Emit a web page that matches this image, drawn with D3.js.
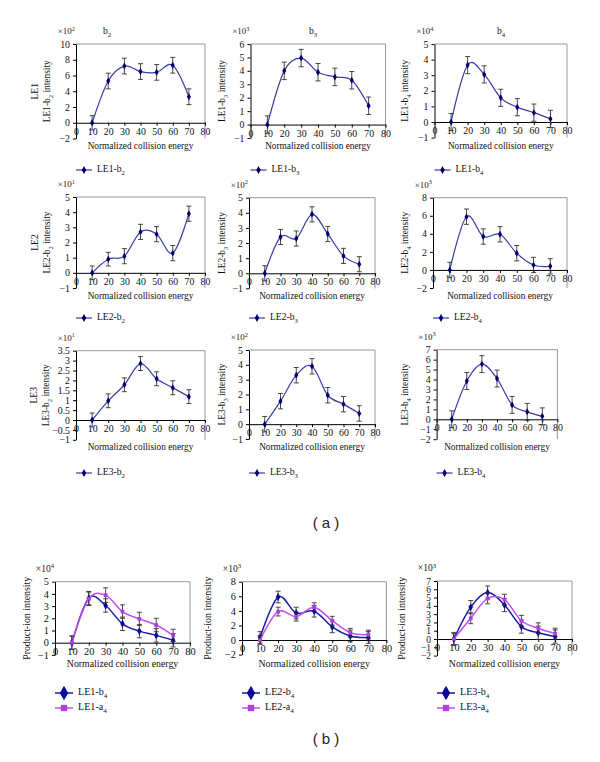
<!DOCTYPE html>
<html><head><meta charset="utf-8">
<script src="https://cdn.jsdelivr.net/npm/d3@7"></script>
<style>
body{margin:0;background:#fff} svg{display:block}
svg text{font-family:"Liberation Serif","Times New Roman",serif}
svg text.sans{font-family:"Liberation Sans",Arial,sans-serif}
</style>
</head><body>
<svg id="c" width="600" height="762"></svg>
<script>
// ---------- data ----------
const energy = [10, 20, 30, 40, 50, 60, 70];
const xTickValues = [0, 10, 20, 30, 40, 50, 60, 70, 80];

// panel (a): values in units of each axis multiplier
const le1b2 = [0, 5.3, 7.2, 6.5, 6.4, 7.3, 3.3];
const le1b2Err = [0.9, 1.0, 1.0, 1.0, 1.0, 1.0, 1.0];
const le1b3 = [0, 4.0, 4.95, 3.9, 3.55, 3.3, 1.4];
const le1b3Err = [0.65, 0.65, 0.65, 0.65, 0.65, 0.65, 0.65];
const le1b4 = [0, 3.65, 3.05, 1.55, 0.95, 0.6, 0.2];
const le1b4Err = [0.55, 0.55, 0.55, 0.55, 0.55, 0.55, 0.55];

const le2b2 = [0, 0.9, 1.1, 2.7, 2.55, 1.3, 3.9];
const le2b2Err = [0.45, 0.45, 0.5, 0.5, 0.5, 0.5, 0.5];
const le2b3 = [0, 2.4, 2.3, 3.9, 2.6, 1.15, 0.6];
const le2b3Err = [0.5, 0.5, 0.5, 0.5, 0.5, 0.5, 0.5];
const le2b4 = [0, 5.9, 3.7, 3.95, 1.85, 0.55, 0.4];
const le2b4Err = [0.85, 0.85, 0.85, 0.85, 0.85, 0.85, 0.85];

const le3b2 = [0, 0.97, 1.78, 2.85, 2.08, 1.63, 1.18];
const le3b2Err = [0.35, 0.35, 0.35, 0.35, 0.35, 0.35, 0.35];
const le3b3 = [0, 1.55, 3.3, 3.9, 1.95, 1.35, 0.72];
const le3b3Err = [0.52, 0.52, 0.52, 0.52, 0.52, 0.52, 0.52];
const le3b4 = [0, 3.85, 5.55, 4.1, 1.45, 0.75, 0.3];
const le3b4Err = [0.85, 0.85, 0.85, 0.85, 0.85, 0.85, 0.85];

// panel (b)
const b1b4 = [0, 3.65, 3.05, 1.55, 0.95, 0.6, 0.2];
const b1b4Err = [0.55, 0.55, 0.55, 0.55, 0.55, 0.55, 0.55];
const b1a4 = [0, 3.6, 3.9, 2.55, 1.95, 1.45, 0.6];
const b1a4Err = [0.55, 0.55, 0.6, 0.55, 0.55, 0.55, 0.5];
const b2b4 = [0.35, 5.9, 3.7, 3.95, 1.8, 0.55, 0.35];
const b2b4Err = [0.8, 0.8, 0.8, 0.8, 0.8, 0.8, 0.8];
const b2a4 = [0, 3.9, 3.2, 4.5, 2.65, 1.0, 0.75];
const b2a4Err = [0.6, 0.6, 0.6, 0.6, 0.6, 0.6, 0.6];
const b3b4 = [0, 3.85, 5.6, 4.1, 1.5, 0.75, 0.3];
const b3b4Err = [0.8, 0.8, 0.8, 0.8, 0.8, 0.8, 0.8];
const b3a4 = [0, 2.5, 4.9, 4.75, 2.2, 1.3, 0.65];
const b3a4Err = [0.65, 0.65, 0.65, 0.65, 0.65, 0.65, 0.65];

const rowNames = ["LE1", "LE2", "LE3"];
const ionNums = ["2", "3", "4"];

// ---------- drawing ----------
const svg = d3.select("#c");
const C = {
  aLine: "#3c3ca8", aMark: "#00006e", err: "#333333", border: "#8c8c8c",
  bBlue: "#1a1aa8", bBlueMark: "#08089a", bMag: "#c24ff2", bMagMark: "#b03ee2"
};

function rich(sel, segs) {
  let cur = 0;
  segs.forEach(s => {
    const shift = s.sub ? 2.5 : (s.sup ? -3.5 : 0);
    const t = sel.append("tspan").attr("dy", shift - cur).text(s.t);
    if (s.sub || s.sup) t.attr("font-size", "70%");
    cur = shift;
  });
  return sel;
}
const fmt = d => (d < 0 ? "\u2212" : "") + String(Math.round(Math.abs(d) * 10) / 10);

function drawPanel(p) {
  const g = svg.append("g");
  const x = d3.scaleLinear().domain([0, 80]).range([p.x0, p.x1]);
  const y = d3.scaleLinear().domain(p.yDomain).range([p.yBot, p.yTop]);
  const fs = p.fs || 9;

  g.append("path").attr("d", `M${p.x0},${p.yTop}H${p.x1}V${p.yBot}`)
    .attr("fill", "none").attr("stroke", C.border).attr("stroke-width", 0.9);

  const yTicks = d3.range(p.yDomain[0], p.yDomain[1] + p.yStep / 2, p.yStep);
  const ya = g.append("g").attr("transform", `translate(${p.x0},0)`)
    .call(d3.axisLeft(y).tickValues(yTicks).tickSize(3).tickSizeOuter(0).tickPadding(3).tickFormat(fmt));
  const xa = g.append("g").attr("transform", `translate(0,${y(0)})`)
    .call(d3.axisBottom(x).tickValues(xTickValues).tickSize(3).tickSizeOuter(0).tickPadding(2).tickFormat(d3.format("d")));
  [ya, xa].forEach(a => {
    a.selectAll("path.domain").attr("stroke", "#000").attr("stroke-width", 1);
    a.selectAll(".tick line").attr("stroke", "#000");
    a.selectAll("text").attr("font-size", fs + 0.8).attr("fill", "#111");
  });
  if (p.yTickFs) ya.selectAll("text").attr("font-size", p.yTickFs);

  rich(g.append("text").attr("x", p.x0 - 1).attr("y", p.yTop - 10).attr("text-anchor", "end")
    .attr("font-size", fs).attr("fill", "#222"),
    [{t: "\u00d710"}, {t: p.mult, sup: true}]);

  const ty = (p.yTop + p.yBot) / 2;
  rich(g.append("text").attr("transform", `translate(${p.yTitleX},${ty}) rotate(-90)`)
    .attr("text-anchor", "middle").attr("font-size", fs + 0.4).attr("fill", "#111"),
    p.yTitle);
  if (p.rowLabel) {
    g.append("text").attr("transform", `translate(${p.yTitleX - 12},${ty}) rotate(-90)`)
      .attr("text-anchor", "middle").attr("font-size", fs + 0.6).attr("fill", "#111")
      .text(p.rowLabel);
  }
  if (p.colTitle) {
    rich(g.append("text").attr("x", p.colTitleX).attr("y", p.yTop - 10).attr("text-anchor", "middle")
      .attr("font-size", fs + 0.6).attr("fill", "#111"),
      [{t: "b"}, {t: p.colTitle, sub: true}]);
  }
  g.append("text").attr("x", (p.x0 + p.x1) / 2).attr("y", p.xTitleY).attr("text-anchor", "middle")
    .attr("dominant-baseline", "middle").attr("font-size", fs + 0.3).attr("fill", "#111")
    .text("Normalized collision energy");

  const line = d3.line().x(d => x(d.x)).y(d => y(d.y)).curve(d3.curveCardinal.tension(0));
  p.series.forEach(s => {
    const pts = energy.map((e, i) => ({x: e, y: s.values[i], err: s.err[i]}));
    g.append("path").datum(pts).attr("d", line).attr("fill", "none")
      .attr("stroke", s.color).attr("stroke-width", s.lw || 1.2);
    const eb = g.append("g").attr("stroke", C.err).attr("stroke-width", 0.9);
    pts.forEach(d => {
      const cx = x(d.x), y1 = y(d.y + d.err), y2 = y(d.y - d.err);
      eb.append("line").attr("x1", cx).attr("x2", cx).attr("y1", y1).attr("y2", y2);
      eb.append("line").attr("x1", cx - 2.5).attr("x2", cx + 2.5).attr("y1", y1).attr("y2", y1);
      eb.append("line").attr("x1", cx - 2.5).attr("x2", cx + 2.5).attr("y1", y2).attr("y2", y2);
    });
    g.append("g").selectAll("path").data(pts).join("path")
      .attr("transform", d => `translate(${x(d.x)},${y(d.y)})`)
      .attr("d", d3.symbol(s.symbol, s.msize || 14)).attr("fill", s.mark);
  });

  p.series.forEach((s, i) => {
    const ly = p.legendY + i * (p.legendGap || 0);
    const lx = p.x0 + (p.legendDx || 0);
    const lw = p.legendW || 16;
    g.append("line").attr("x1", lx).attr("x2", lx + lw).attr("y1", ly).attr("y2", ly)
      .attr("stroke", s.color).attr("stroke-width", s.lw || 1.2);
    g.append("path").attr("transform", `translate(${lx + lw / 2},${ly})`)
      .attr("d", d3.symbol(s.symbol, s.lmsize || 16)).attr("fill", s.mark);
    rich(g.append("text").attr("x", lx + lw + 5).attr("y", ly).attr("dominant-baseline", "middle")
      .attr("font-size", fs + 0.6).attr("fill", "#111"), s.label);
  });
}

function aSeries(row, col, values, err) {
  return {values, err, color: C.aLine, mark: C.aMark, symbol: d3.symbolDiamond, msize: 14, lmsize: 18,
    label: [{t: rowNames[row] + "-b"}, {t: ionNums[col], sub: true}]};
}
function aTitle(row, col) {
  return [{t: rowNames[row] + "-b"}, {t: ionNums[col], sub: true}, {t: " intensity"}];
}

const panelsA = [
  {x0: 76, x1: 205, yTop: 44, yBot: 138.5, yDomain: [-2, 10], yStep: 2, mult: "2", yTitleX: 50, rowLabel: "LE1",
   colTitle: "2", colTitleX: 107, xTitleY: 147, legendY: 170, series: [aSeries(0, 0, le1b2, le1b2Err)], yTitle: aTitle(0, 0)},
  {x0: 250.5, x1: 385.5, yTop: 44, yBot: 138, yDomain: [-1, 6], yStep: 1, mult: "3", yTitleX: 225,
   colTitle: "3", colTitleX: 313, xTitleY: 147, legendY: 170, series: [aSeries(0, 1, le1b3, le1b3Err)], yTitle: aTitle(0, 1)},
  {x0: 434.5, x1: 567, yTop: 44, yBot: 137.6, yDomain: [-1, 5], yStep: 1, mult: "4", yTitleX: 408,
   colTitle: "4", colTitleX: 501, xTitleY: 147, legendY: 170, series: [aSeries(0, 2, le1b4, le1b4Err)], yTitle: aTitle(0, 2)},

  {x0: 76, x1: 205, yTop: 197, yBot: 288, yDomain: [-1, 5], yStep: 1, mult: "1", yTitleX: 50, rowLabel: "LE2",
   xTitleY: 297, legendY: 318, series: [aSeries(1, 0, le2b2, le2b2Err)], yTitle: aTitle(1, 0)},
  {x0: 249, x1: 375, yTop: 197.7, yBot: 288.4, yDomain: [-1, 5], yStep: 1, mult: "2", yTitleX: 225,
   xTitleY: 297, legendY: 318, series: [aSeries(1, 1, le2b3, le2b3Err)], yTitle: aTitle(1, 1)},
  {x0: 433, x1: 567, yTop: 197.7, yBot: 288, yDomain: [-2, 8], yStep: 2, mult: "3", yTitleX: 408,
   xTitleY: 297, legendY: 318, series: [aSeries(1, 2, le2b4, le2b4Err)], yTitle: aTitle(1, 2)},

  {x0: 76, x1: 205, yTop: 350.7, yBot: 439.8, yDomain: [-1, 3.5], yStep: 0.5, mult: "1", yTitleX: 49, rowLabel: "LE3",
   xTitleY: 448, legendY: 473, series: [aSeries(2, 0, le3b2, le3b2Err)], yTitle: aTitle(2, 0)},
  {x0: 249, x1: 375, yTop: 350, yBot: 439, yDomain: [-1, 5], yStep: 1, mult: "2", yTitleX: 225,
   xTitleY: 448, legendY: 473, series: [aSeries(2, 1, le3b3, le3b3Err)], yTitle: aTitle(2, 1)},
  {x0: 436.6, x1: 557.4, yTop: 349.7, yBot: 439.2, yDomain: [-2, 7], yStep: 1, mult: "3", yTitleX: 408,
   xTitleY: 448, legendY: 473, series: [aSeries(2, 2, le3b4, le3b4Err)], yTitle: aTitle(2, 2)}
];

function bSeries(row, vb, eb, va, ea) {
  return [
    {values: vb, err: eb, color: C.bBlue, mark: C.bBlueMark, symbol: d3.symbolDiamond, msize: 18, lmsize: 60, lw: 1.5,
     label: [{t: rowNames[row] + "-b"}, {t: "4", sub: true}]},
    {values: va, err: ea, color: C.bMag, mark: C.bMagMark, symbol: d3.symbolSquare, msize: 14, lmsize: 40, lw: 1.5,
     label: [{t: rowNames[row] + "-a"}, {t: "4", sub: true}]}
  ];
}
const pTitle = [{t: "Product-ion intensity"}];
const panelsB = [
  {x0: 55, x1: 190, yTop: 581.7, yBot: 654.9, yDomain: [-1, 5], yStep: 1, mult: "4", yTitleX: 30, fs: 9.5,
   xTitleY: 665, legendY: 693, legendGap: 15, legendW: 18, series: bSeries(0, b1b4, b1b4Err, b1a4, b1a4Err), yTitle: pTitle},
  {x0: 242, x1: 386.4, yTop: 581.7, yBot: 654.6, yDomain: [-2, 8], yStep: 2, mult: "3", yTitleX: 211, fs: 9.5,
   xTitleY: 665, legendY: 693, legendGap: 15, legendW: 18, series: bSeries(1, b2b4, b2b4Err, b2a4, b2a4Err), yTitle: pTitle},
  {x0: 437, x1: 572, yTop: 581, yBot: 655.6, yDomain: [-2, 7], yStep: 1, mult: "3", yTitleX: 405, fs: 9.5, yTickFs: 9.5,
   xTitleY: 665, legendY: 693, legendGap: 15, legendW: 18, series: bSeries(2, b3b4, b3b4Err, b3a4, b3a4Err), yTitle: pTitle}
];

panelsA.forEach(drawPanel);
panelsB.forEach(drawPanel);

svg.append("text").attr("class", "sans").attr("x", 326).attr("y", 524).attr("text-anchor", "middle")
  .attr("dominant-baseline", "middle").attr("font-size", 15).attr("fill", "#222").text("( a )");
svg.append("text").attr("class", "sans").attr("x", 326).attr("y", 740).attr("text-anchor", "middle")
  .attr("dominant-baseline", "middle").attr("font-size", 15).attr("fill", "#222").text("( b )");
</script>
</body></html>
